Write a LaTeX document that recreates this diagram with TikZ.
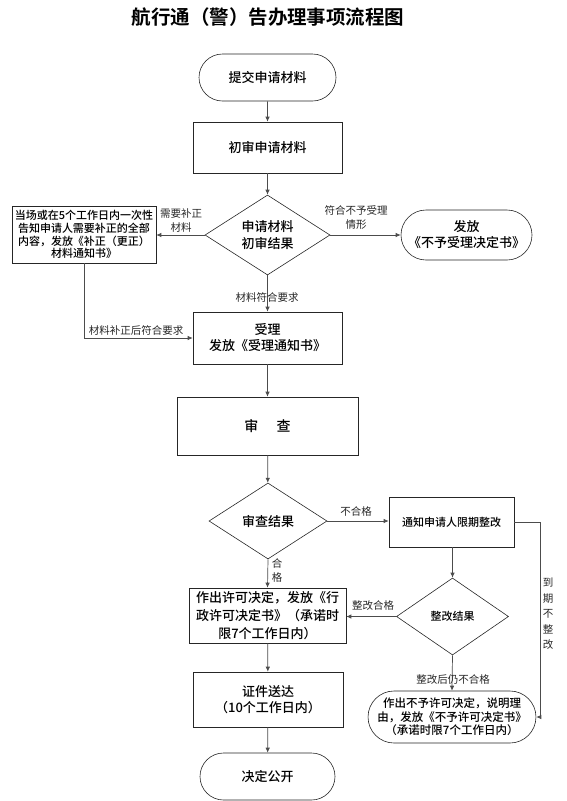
\documentclass[tikz,border=0pt]{standalone}
\usepackage{fontspec}
\setmainfont{Noto Sans CJK SC}[BoldFont={Noto Sans CJK SC Medium}]
\newfontfamily\titlefont{Noto Sans CJK SC Bold}
\usetikzlibrary{shapes.geometric,shapes.misc,arrows.meta}
\begin{document}
\begin{tikzpicture}[x=1pt,y=-1pt,
 box/.style={draw=black!85, line width=0.6pt, align=center, inner sep=1pt, font=\bfseries\fontsize{13}{17}\selectfont},
 term/.style={box, rounded rectangle},
 dia/.style={box, diamond, inner sep=0pt},
 conn/.style={draw=black!70, line width=0.7pt, -{Latex[length=5pt,width=4.5pt]}},
 lab/.style={font=\fontsize{10.5}{14}\selectfont, text=black!85, align=center, inner sep=0pt}]
\useasboundingbox (0,0) rectangle (566,801);
\node[font=\titlefont\fontsize{19.5}{22}\selectfont] (title) at (268,17) {航行通（警）告办理事项流程图};

\node[term, minimum width=139pt, minimum height=47pt] (start) at (267.5,77.5) {提交申请材料};
\node[box, minimum width=149pt, minimum height=51pt] (s1) at (267.5,147.5) {初审申请材料};
\node[dia, minimum width=125pt, minimum height=80pt, shape aspect=1.56] (d1) at (267.5,235) {申请材料\\初审结果};
\node[box, minimum width=144pt, minimum height=57pt, font=\bfseries\fontsize{11}{12.7}\selectfont] (left) at (84,234.5) {当场或在5个工作日内一次性\\告知申请人需要补正的全部\\内容，发放《补正（更正）\\材料通知书》};
\node[term, minimum width=133pt, minimum height=50pt, font=\bfseries\fontsize{13}{16}\selectfont] (rej) at (466.5,235) {发放\\《不予受理决定书》};
\node[box, minimum width=149pt, minimum height=52pt, font=\bfseries\fontsize{13}{16}\selectfont] (acc) at (267.5,338) {受理\\发放《受理通知书》};
\node[box, minimum width=181pt, minimum height=58pt, font=\bfseries\fontsize{14}{17}\selectfont] (rev) at (267.5,426) {审\hspace{1.3em}查};
\node[dia, minimum width=118pt, minimum height=76pt, shape aspect=1.55] (d2) at (268,521) {审查结果};
\node[box, minimum width=125pt, minimum height=50pt, font=\bfseries\fontsize{11}{14}\selectfont] (notify) at (451.5,522) {通知申请人限期整改};
\node[box, minimum width=157pt, minimum height=55pt, font=\bfseries\fontsize{13}{18}\selectfont] (permit) at (267.5,615.5) {作出许可决定，发放《行\\政许可决定书》（承诺时\\限7个工作日内）};
\node[dia, minimum width=112pt, minimum height=77pt, shape aspect=1.45, font=\bfseries\fontsize{11}{14}\selectfont] (d3) at (452.5,616.5) {整改结果};
\node[term, minimum width=150pt, minimum height=52pt, font=\bfseries\fontsize{11.5}{13.5}\selectfont] (deny) at (452,717) {作出不予许可决定，说明理\\由，发放《不予许可决定书》\\（承诺时限7个工作日内）};
\node[box, minimum width=150pt, minimum height=55pt, font=\bfseries\fontsize{13}{16}\selectfont] (deliver) at (268,699.5) {证件送达\\（10个工作日内）};
\node[term, minimum width=137pt, minimum height=47pt] (pub) at (267.5,776.5) {决定公开};

\path[conn] (start) -- (s1);
\path[conn] (s1) -- (d1);
\path[conn] (d1.west) -- (d1.west -| left.east);
\path[conn] (d1.east) -- (d1.east -| rej.west);
\path[conn] (d1.south) -- (acc.north);
\path[conn] (left.south) |- (acc.west);
\path[conn] (acc) -- (rev);
\path[conn] (rev) -- (d2);
\path[conn] (d2.east) -- (d2.east -| notify.west);
\path[conn] (d2.south) -- (permit.north);
\path[conn] (notify.south -| d3.north) -- (d3.north);
\path[conn] (d3.west) -- (d3.west -| permit.east);
\path[conn] (d3.south) -- (deny.north);
\coordinate (cr) at (540,522);
\path[conn] (notify.east) -- (cr) |- (deny.east);
\path[conn] (permit) -- (deliver);
\path[conn] (deliver) -- (pub);

\node[lab] (l1) at (181,220) {需要补正\\材料};
\node[lab] (l2) at (356,218) {符合不予受理\\情形};
\node[lab] (l3) at (267,297) {材料符合要求};
\node[lab] (l4) at (136,330) {材料补正后符合要求};
\node[lab] (l5) at (356,511) {不合格};
\node[lab] (l6) at (277,570.5) {合\\格};
\node[lab] (l7) at (373,606) {整改合格};
\node[lab] (l8) at (453,680) {整改后仍不合格};
\node[lab, font=\fontsize{10.5}{15.5}\selectfont] (l9) at (548,614) {到\\期\\不\\整\\改};
\end{tikzpicture}
\end{document}
